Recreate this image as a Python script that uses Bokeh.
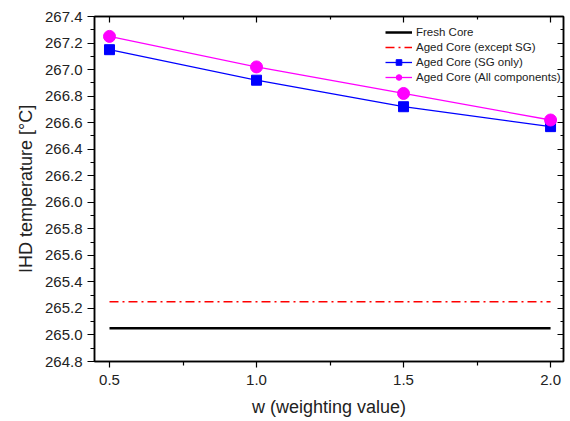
from bokeh.plotting import figure
from bokeh.models import (LinearAxis, FixedTicker, NumeralTickFormatter, Range1d,
                          Legend, LegendItem, CustomJSTickFormatter)
from bokeh.embed import file_html
from bokeh.resources import INLINE

# ---- data ----
w = [0.5, 1.0, 1.5, 2.0]
fresh_core = [265.05, 265.05, 265.05, 265.05]
aged_except_sg = [265.25, 265.25, 265.25, 265.25]
aged_sg_only = [267.15, 266.92, 266.72, 266.57]
aged_all = [267.25, 267.02, 266.82, 266.62]

x_ticks = [0.5, 1.0, 1.5, 2.0]
x_minor = [0.75, 1.25, 1.75]
y_ticks = [264.8, 265.0, 265.2, 265.4, 265.6, 265.8, 266.0, 266.2, 266.4,
           266.6, 266.8, 267.0, 267.2, 267.4]
y_minor = [264.9, 265.1, 265.3, 265.5, 265.7, 265.9, 266.1, 266.3, 266.5,
           266.7, 266.9, 267.1, 267.3]

FONT = "Liberation Sans"

p = figure(frame_width=469, frame_height=345, output_backend="svg",
           toolbar_location=None, x_range=Range1d(0.449, 2.044),
           y_range=Range1d(264.8, 267.4),
           min_border_left=94, min_border_top=16, min_border_right=2,
           min_border_bottom=50)
p.grid.visible = False
p.outline_line_color = "black"
p.outline_line_width = 1.5
p.background_fill_color = "white"
p.border_fill_color = "white"

# main axes
xa = p.xaxis[0]
ya = p.yaxis[0]
xa.ticker = FixedTicker(ticks=x_ticks, minor_ticks=x_minor)
ya.ticker = FixedTicker(ticks=y_ticks, minor_ticks=y_minor)
for ax in (xa, ya):
    ax.formatter = NumeralTickFormatter(format="0.0")
    ax.axis_line_width = 1.5
    ax.major_tick_line_width = 1.2
    ax.minor_tick_line_width = 1.2
    ax.major_tick_in = 0
    ax.minor_tick_in = 0
    ax.major_label_text_font = FONT
    ax.major_label_text_font_size = "15px"
    ax.major_label_text_color = "#222222"
    ax.axis_label_text_font = FONT
    ax.axis_label_text_font_size = "18px"
    ax.axis_label_text_font_style = "normal"
    ax.axis_label_text_color = "#222222"
xa.major_tick_out = 6
xa.minor_tick_out = 4
ya.major_tick_out = 7
ya.minor_tick_out = 4
xa.major_label_standoff = 7
ya.major_label_standoff = 5
xa.axis_label = "w (weighting value)"
ya.axis_label = "IHD temperature [°C]"
xa.axis_label_standoff = 9
ya.axis_label_standoff = 6

# mirror axes with inward ticks
blank = CustomJSTickFormatter(code="return ''")
top = LinearAxis(ticker=FixedTicker(ticks=x_ticks, minor_ticks=x_minor), formatter=blank)
right = LinearAxis(ticker=FixedTicker(ticks=y_ticks, minor_ticks=y_minor), formatter=blank)
for ax in (top, right):
    ax.major_tick_in = 6
    ax.major_tick_out = 0
    ax.minor_tick_in = 3
    ax.minor_tick_out = 0
    ax.major_label_standoff = 0
    ax.major_label_text_font_size = "0px"
    ax.axis_line_width = 1.5
    ax.major_tick_line_width = 1.2
    ax.minor_tick_line_width = 1.2
p.add_layout(top, "above")
p.add_layout(right, "right")

# series
r_fresh = p.line(w, fresh_core, line_color="black", line_width=2.5)
r_except = p.line(w, aged_except_sg, line_color="#ff0000", line_width=1.5,
                  line_dash="9 4 2 4")
r_sg_l = p.line(w, aged_sg_only, line_color="#0000ff", line_width=1.3)
r_sg_m = p.scatter(w, aged_sg_only, marker="square", size=10,
                   fill_color="#0000ff", line_color="#0000ff")
r_all_l = p.line(w, aged_all, line_color="#ff00ff", line_width=1.3)
r_all_m = p.scatter(w, aged_all, marker="circle", size=12,
                    fill_color="#ff00ff", line_color="#ff00ff")

legend = Legend(items=[
    LegendItem(label="Fresh Core", renderers=[r_fresh]),
    LegendItem(label="Aged Core (except SG)", renderers=[r_except]),
    LegendItem(label="Aged Core (SG only)", renderers=[r_sg_l, r_sg_m]),
    LegendItem(label="Aged Core (All components)", renderers=[r_all_l, r_all_m]),
], location=(291, 277))
legend.border_line_color = None
legend.background_fill_alpha = 0
legend.padding = 0
legend.margin = 0
legend.spacing = 1
legend.glyph_width = 27
legend.glyph_height = 14
legend.label_height = 14
legend.label_standoff = 4
legend.label_text_font = FONT
legend.label_text_font_size = "11.5px"
legend.label_text_color = "#222222"
p.add_layout(legend, "center")

open("out.html", "w").write(file_html(p, INLINE))
